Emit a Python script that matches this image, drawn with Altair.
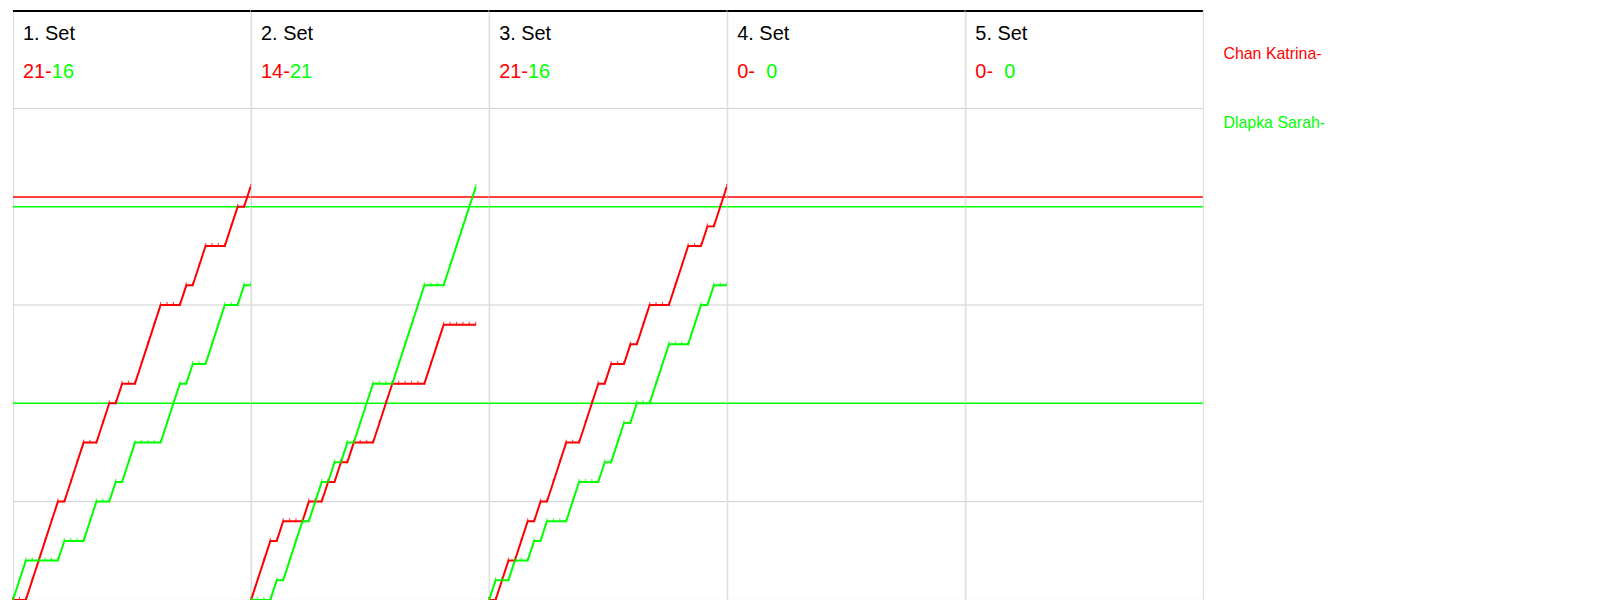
import altair as alt
import pandas as pd

# ---------------- data ----------------
set_titles = ["1. Set", "2. Set", "3. Set", "4. Set", "5. Set"]
red_final = ["21", "14", "21", "0", "0"]
green_final = ["16", "21", "16", "0", "0"]
player_names = ["Chan Katrina", "Dlapka Sarah"]
legend_labels = ["Chan Katrina-", "Dlapka Sarah-"]
player_colors = ["#ff0000", "#00ff00"]

# running score after each rally (rally 0 .. n)
set1_red = [0, 0, 0, 1, 2, 3, 4, 5, 5, 6, 7, 8, 8, 8, 9, 10, 10, 11, 11, 11,
            12, 13, 14, 15, 15, 15, 15, 16, 16, 17, 18, 18, 18, 18, 19, 20, 20, 21]
set1_green = [0, 1, 2, 2, 2, 2, 2, 2, 3, 3, 3, 3, 4, 5, 5, 5, 6, 6, 7, 8,
              8, 8, 8, 8, 9, 10, 11, 11, 12, 12, 12, 13, 14, 15, 15, 15, 16, 16]
set2_red = [0, 1, 2, 3, 3, 4, 4, 4, 4, 5, 5, 5, 6, 6, 7, 7, 8, 8, 8, 8,
            9, 10, 11, 11, 11, 11, 11, 11, 12, 13, 14, 14, 14, 14, 14, 14]
set2_green = [0, 0, 0, 0, 1, 1, 2, 3, 4, 4, 5, 6, 6, 7, 7, 8, 8, 9, 10, 11,
              11, 11, 11, 12, 13, 14, 15, 16, 16, 16, 16, 17, 18, 19, 20, 21]
set3_red = [0, 0, 1, 2, 2, 3, 4, 4, 5, 5, 6, 7, 8, 8, 8, 9, 10, 11, 11, 12,
            12, 12, 13, 13, 14, 15, 15, 15, 15, 16, 17, 18, 18, 18, 19, 19, 20, 21]
set3_green = [0, 1, 1, 1, 2, 2, 2, 3, 3, 4, 4, 4, 4, 5, 6, 6, 6, 6, 7, 7,
              8, 9, 9, 10, 10, 10, 11, 12, 13, 13, 13, 13, 14, 15, 15, 16, 16, 16]

set_series = [(set1_red, set1_green), (set2_red, set2_green), (set3_red, set3_green), None, None]

grid_scores = [5, 15, 25]
ref_scores = [20.5, 20, 10]
ref_colors = ["#ff0000", "#00ff00", "#00ff00"]

max_rallies = 37
score_max = 30

# ---------------- layout ----------------
FONT = "Liberation Sans"
W = 238.4
H = 592
K = H / 600.0

xs = alt.Scale(domain=[0, max_rallies], nice=False, zero=False)
ys = alt.Scale(domain=[0, score_max], nice=False, zero=False)
cs = alt.Scale(domain=player_names, range=player_colors)


def panel(i):
    layers = []
    grid = alt.Chart(pd.DataFrame({"s": grid_scores})).mark_rule(
        color="#d0d0d0", strokeWidth=1
    ).encode(y=alt.Y("s:Q", scale=ys, axis=None))
    layers.append(grid)

    refs = alt.Chart(pd.DataFrame({"s": ref_scores, "c": ref_colors})).mark_rule(
        strokeWidth=1.5
    ).encode(
        y=alt.Y("s:Q", scale=ys, axis=None),
        color=alt.Color("c:N", scale=None, legend=None),
    )
    layers.append(refs)

    series = set_series[i]
    if series is not None:
        red, green = series
        rows = []
        for r, v in enumerate(red):
            rows.append({"rally": r, "score": v, "player": player_names[0]})
        for r, v in enumerate(green):
            rows.append({"rally": r, "score": v, "player": player_names[1]})
        df = pd.DataFrame(rows)
        base = alt.Chart(df).encode(
            x=alt.X("rally:Q", scale=xs, axis=None),
            y=alt.Y("score:Q", scale=ys, axis=None),
            color=alt.Color("player:N", scale=cs, legend=None),
        )
        layers.append(base.mark_line(strokeWidth=2, interpolate="linear"))
        layers.append(base.mark_tick(orient="vertical", size=4, thickness=1.2, yOffset=-1))

    top = alt.Chart(pd.DataFrame({"s": [score_max]})).mark_rule(
        color="black", strokeWidth=2, yOffset=1
    ).encode(y=alt.Y("s:Q", scale=ys, axis=None))
    layers.append(top)

    title = alt.Chart(pd.DataFrame({"t": [set_titles[i]]})).mark_text(
        align="left", baseline="alphabetic", fontSize=20, font=FONT, color="black"
    ).encode(x=alt.value(10), y=alt.value(30 * K), text="t:N")
    layers.append(title)

    red_txt = alt.Chart(pd.DataFrame({"t": [red_final[i] + "-"]})).mark_text(
        align="left", baseline="alphabetic", fontSize=20, font=FONT, color=player_colors[0]
    ).encode(x=alt.value(10), y=alt.value(69.5 * K), text="t:N")
    layers.append(red_txt)

    green_txt = alt.Chart(pd.DataFrame({"t": [green_final[i]]})).mark_text(
        align="left", baseline="alphabetic", fontSize=20, font=FONT, color=player_colors[1]
    ).encode(x=alt.value(39), y=alt.value(69.5 * K), text="t:N")
    layers.append(green_txt)

    return alt.layer(*layers).properties(width=W, height=H)


panels = [panel(i) for i in range(5)]

leg1 = alt.Chart(pd.DataFrame({"t": [legend_labels[0]]})).mark_text(
    align="left", baseline="alphabetic", fontSize=16, font=FONT, color=player_colors[0]
).encode(x=alt.value(20), y=alt.value(50 * K), text="t:N")
leg2 = alt.Chart(pd.DataFrame({"t": [legend_labels[1]]})).mark_text(
    align="left", baseline="alphabetic", fontSize=16, font=FONT, color=player_colors[1]
).encode(x=alt.value(20), y=alt.value(120 * K), text="t:N")
legend = alt.layer(leg1, leg2).properties(
    width=390, height=H, view=alt.ViewBackground(stroke=None)
)

chart = alt.hconcat(*panels, legend, spacing=0, bounds="flush").properties(
    padding=0
).configure_view(stroke="#8a8a8a", strokeWidth=1).configure(background="white")

chart.save("out.html", embed_options={"renderer": "svg", "actions": False})
